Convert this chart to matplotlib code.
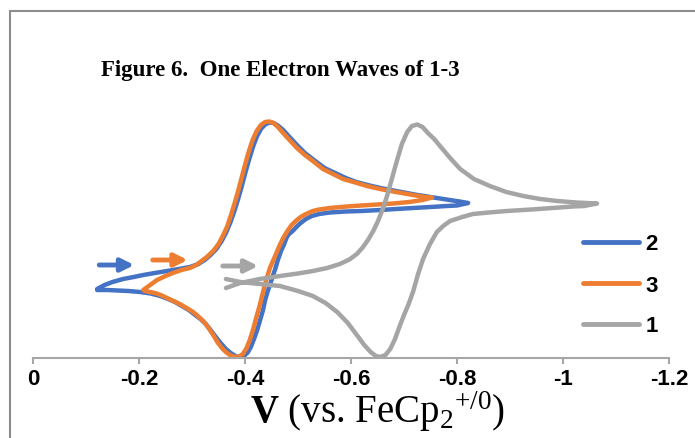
import matplotlib
matplotlib.use("Agg")
import matplotlib.pyplot as plt
from matplotlib.patches import Rectangle

plt.rcParams["font.family"] = "Liberation Sans"
plt.rcParams["mathtext.fontset"] = "custom"
plt.rcParams["mathtext.rm"] = "Liberation Serif"
plt.rcParams["mathtext.bf"] = "Liberation Serif:bold"
plt.rcParams["mathtext.it"] = "Liberation Serif:italic"

# potential (V vs FeCp2+/0) and current (arb. units)
# compound 2: forward scan then return scan
v2 = [-0.121, -0.135, -0.150, -0.170, -0.190, -0.208, -0.230, -0.253, -0.275, -0.296,
      -0.312, -0.324, -0.335, -0.346, -0.356, -0.364, -0.372, -0.380, -0.387, -0.394,
      -0.401, -0.408, -0.415, -0.422, -0.430, -0.438, -0.446, -0.454, -0.462, -0.472,
      -0.484, -0.498, -0.513, -0.530, -0.550, -0.570, -0.590, -0.610, -0.635, -0.660,
      -0.690, -0.720, -0.750, -0.780, -0.805, -0.821,
      -0.800, -0.781, -0.750, -0.717, -0.685, -0.655, -0.620, -0.590, -0.560, -0.540,
      -0.526, -0.515, -0.505, -0.497, -0.490, -0.483, -0.479, -0.474, -0.468, -0.462,
      -0.457, -0.450, -0.443, -0.438, -0.434, -0.428, -0.423, -0.417, -0.411, -0.405,
      -0.398, -0.390, -0.382, -0.373, -0.364, -0.354, -0.345, -0.335, -0.326, -0.316,
      -0.306, -0.294, -0.281, -0.268, -0.255, -0.240, -0.222, -0.202, -0.180, -0.160,
      -0.140, -0.121]
i2 = [1.0, 1.4, 1.7, 2.0, 2.2, 2.4, 2.6, 2.8, 3.0, 3.2,
      3.5, 3.9, 4.4, 5.0, 5.8, 6.6, 7.6, 8.8, 10.0, 11.3,
      12.7, 14.0, 15.2, 16.2, 17.0, 17.45, 17.65, 17.6, 17.35, 16.9,
      16.2, 15.4, 14.6, 13.9, 13.1, 12.6, 12.1, 11.7, 11.35, 11.05,
      10.75, 10.45, 10.2, 9.95, 9.75, 9.6,
      9.35, 9.3, 9.2, 9.1, 9.0, 8.9, 8.8, 8.75, 8.65, 8.5,
      8.3, 8.0, 7.6, 7.2, 6.8, 6.5, 6.2, 5.5, 4.8, 3.9,
      3.0, 1.9, 0.8, -0.1, -1.1, -2.2, -3.1, -4.0, -4.8, -5.35,
      -5.7, -5.85, -5.7, -5.4, -5.0, -4.4, -3.8, -3.1, -2.5, -2.0,
      -1.6, -1.1, -0.7, -0.3, 0.0, 0.3, 0.55, 0.7, 0.8, 0.85,
      0.9, 0.9]

# compound 3
v3 = [-0.208, -0.221, -0.234, -0.250, -0.264, -0.280, -0.296, -0.308, -0.318, -0.328,
      -0.340, -0.350, -0.358, -0.366, -0.373, -0.380, -0.387, -0.394, -0.401, -0.408,
      -0.415, -0.422, -0.430, -0.438, -0.446, -0.454, -0.462, -0.472, -0.484, -0.498,
      -0.513, -0.528, -0.547, -0.566, -0.585, -0.605, -0.630, -0.655, -0.685, -0.717,
      -0.740, -0.753,
      -0.735, -0.710, -0.680, -0.650, -0.620, -0.592, -0.560, -0.540, -0.528, -0.515,
      -0.505, -0.498, -0.488, -0.480, -0.472, -0.464, -0.456, -0.447, -0.440, -0.434,
      -0.428, -0.421, -0.415, -0.409, -0.403, -0.396, -0.389, -0.381, -0.373, -0.365,
      -0.358, -0.349, -0.340, -0.330, -0.321, -0.311, -0.302, -0.290, -0.277, -0.265,
      -0.253, -0.241, -0.230, -0.211]
i3 = [0.9, 1.4, 1.9, 2.3, 2.6, 2.9, 3.1, 3.4, 3.8, 4.2,
      4.8, 5.5, 6.3, 7.2, 8.3, 9.5, 10.8, 12.2, 13.6, 14.9,
      16.0, 16.8, 17.4, 17.7, 17.75, 17.6, 17.2, 16.6, 15.9, 15.1,
      14.4, 13.8, 13.0, 12.5, 12.0, 11.7, 11.3, 11.0, 10.7, 10.4,
      10.2, 10.15,
      9.9, 9.7, 9.55, 9.45, 9.35, 9.25, 9.1, 8.95, 8.8, 8.5,
      8.2, 7.9, 7.4, 6.8, 6.1, 5.2, 4.2, 3.1, 1.9, 0.7,
      -0.6, -1.9, -3.1, -4.1, -4.9, -5.5, -5.75, -5.8, -5.65, -5.35,
      -5.0, -4.4, -3.6, -2.8, -2.2, -1.7, -1.3, -0.9, -0.5, -0.2,
      0.1, 0.4, 0.6, 0.8]

# compound 1
v1 = [-0.364, -0.391, -0.428, -0.466, -0.500, -0.528, -0.555, -0.579, -0.597, -0.611,
      -0.622, -0.632, -0.642, -0.651, -0.660, -0.668, -0.677, -0.687, -0.696, -0.706,
      -0.715, -0.725, -0.735, -0.745, -0.757, -0.768, -0.787, -0.806, -0.832, -0.862,
      -0.893, -0.925, -0.957, -0.989, -1.025, -1.064,
      -1.040, -1.019, -0.980, -0.940, -0.894, -0.860, -0.830, -0.810, -0.787, -0.775,
      -0.762, -0.749, -0.736, -0.726, -0.717, -0.708, -0.700, -0.692, -0.683, -0.674,
      -0.665, -0.655, -0.647, -0.637, -0.625, -0.611, -0.594, -0.574, -0.552, -0.528,
      -0.500, -0.466, -0.428, -0.391, -0.364]
i1 = [1.1, 1.6, 2.0, 2.3, 2.55, 2.8, 3.1, 3.5, 3.95, 4.5,
      5.15, 5.9, 6.8, 7.8, 9.0, 10.3, 12.0, 13.9, 15.5, 16.7,
      17.3, 17.45, 17.2, 16.6, 16.0, 15.3, 14.1, 13.0, 12.0, 11.3,
      10.7, 10.3, 10.0, 9.8, 9.65, 9.55,
      9.3, 9.25, 9.1, 8.95, 8.8, 8.65, 8.5, 8.2, 7.8, 7.35,
      6.7, 5.5, 4.0, 2.4, 0.7, -0.6, -1.6, -2.7, -4.0, -5.0,
      -5.6, -5.8, -5.7, -5.3, -4.6, -3.6, -2.4, -1.3, -0.4, 0.3,
      0.8, 1.3, 1.5, 1.7, 2.0]

series = [("2", v2, i2, "#4472C4"), ("3", v3, i3, "#ED7D31"), ("1", v1, i1, "#A5A5A5")]

# scan direction arrows: (start V, end V, current)
arrow_start = [-0.125, -0.226, -0.358]
arrow_end = [-0.191, -0.292, -0.425]
arrow_i = [3.4, 3.9, 3.3]
arrow_col = ["#4472C4", "#ED7D31", "#A5A5A5"]

xticks = [0, -0.2, -0.4, -0.6, -0.8, -1, -1.2]
xticklabels = ["0", "-0.2", "-0.4", "-0.6", "-0.8", "-1", "-1.2"]

fig = plt.figure(figsize=(6.95, 4.39), dpi=100)
ax = fig.add_axes([33/695, 80.5/439, 636/695, 248.5/439])

for name, v, cur, col in series:
    ax.plot(v, cur, color=col, lw=3.2, label=name, solid_capstyle="round", solid_joinstyle="round")

for a, b, y, col in zip(arrow_start, arrow_end, arrow_i, arrow_col):
    ax.annotate("", xy=(b, y), xytext=(a, y),
                arrowprops=dict(arrowstyle="-|>", color=col, lw=3.5, mutation_scale=19,
                                shrinkA=0, shrinkB=0))

ax.set_xlim(0, -1.2)
ax.set_ylim(-5.85, 19.0)
ax.set_xticks(xticks)
ax.set_xticklabels(xticklabels, fontsize=16, fontweight="bold")
ax.set_yticks([])
for s in ["top", "left", "right"]:
    ax.spines[s].set_visible(False)
ax.spines["bottom"].set_color("#A6A6A6")
ax.spines["bottom"].set_linewidth(1.5)
ax.tick_params(axis="x", direction="out", length=4.5, width=1.5, color="#A6A6A6", pad=3)

ax.set_xlabel(r"$\mathbf{V}$ (vs. FeCp$_2{}^{+/0}$)", fontsize=28, family="Liberation Serif",
              va="baseline")
ax.xaxis.set_label_coords((377 - 33) / 636, -(423 - 358.5) / 248.5)

fig.text(280/695, 1 - 76/439, "Figure 6.  One Electron Waves of 1-3", ha="center",
         va="baseline", fontsize=16.5, family="Liberation Serif", fontweight="bold")

leg = ax.legend(loc="center left", bbox_to_anchor=(583/695, 1 - 286/439),
                bbox_transform=fig.transFigure, frameon=False, borderpad=0,
                borderaxespad=0, handlelength=2.5, handletextpad=0.3, labelspacing=0.9,
                prop=dict(family="Liberation Sans", weight="bold", size=16))
for line in leg.get_lines():
    line.set_linewidth(3.5)

fig.patches.append(Rectangle((10/695, -0.1), 1.2, 1.1 - 12/439, fill=False,
                             edgecolor="#8C8C8C", lw=1.5, transform=fig.transFigure))

fig.savefig("out.png", dpi=100)
